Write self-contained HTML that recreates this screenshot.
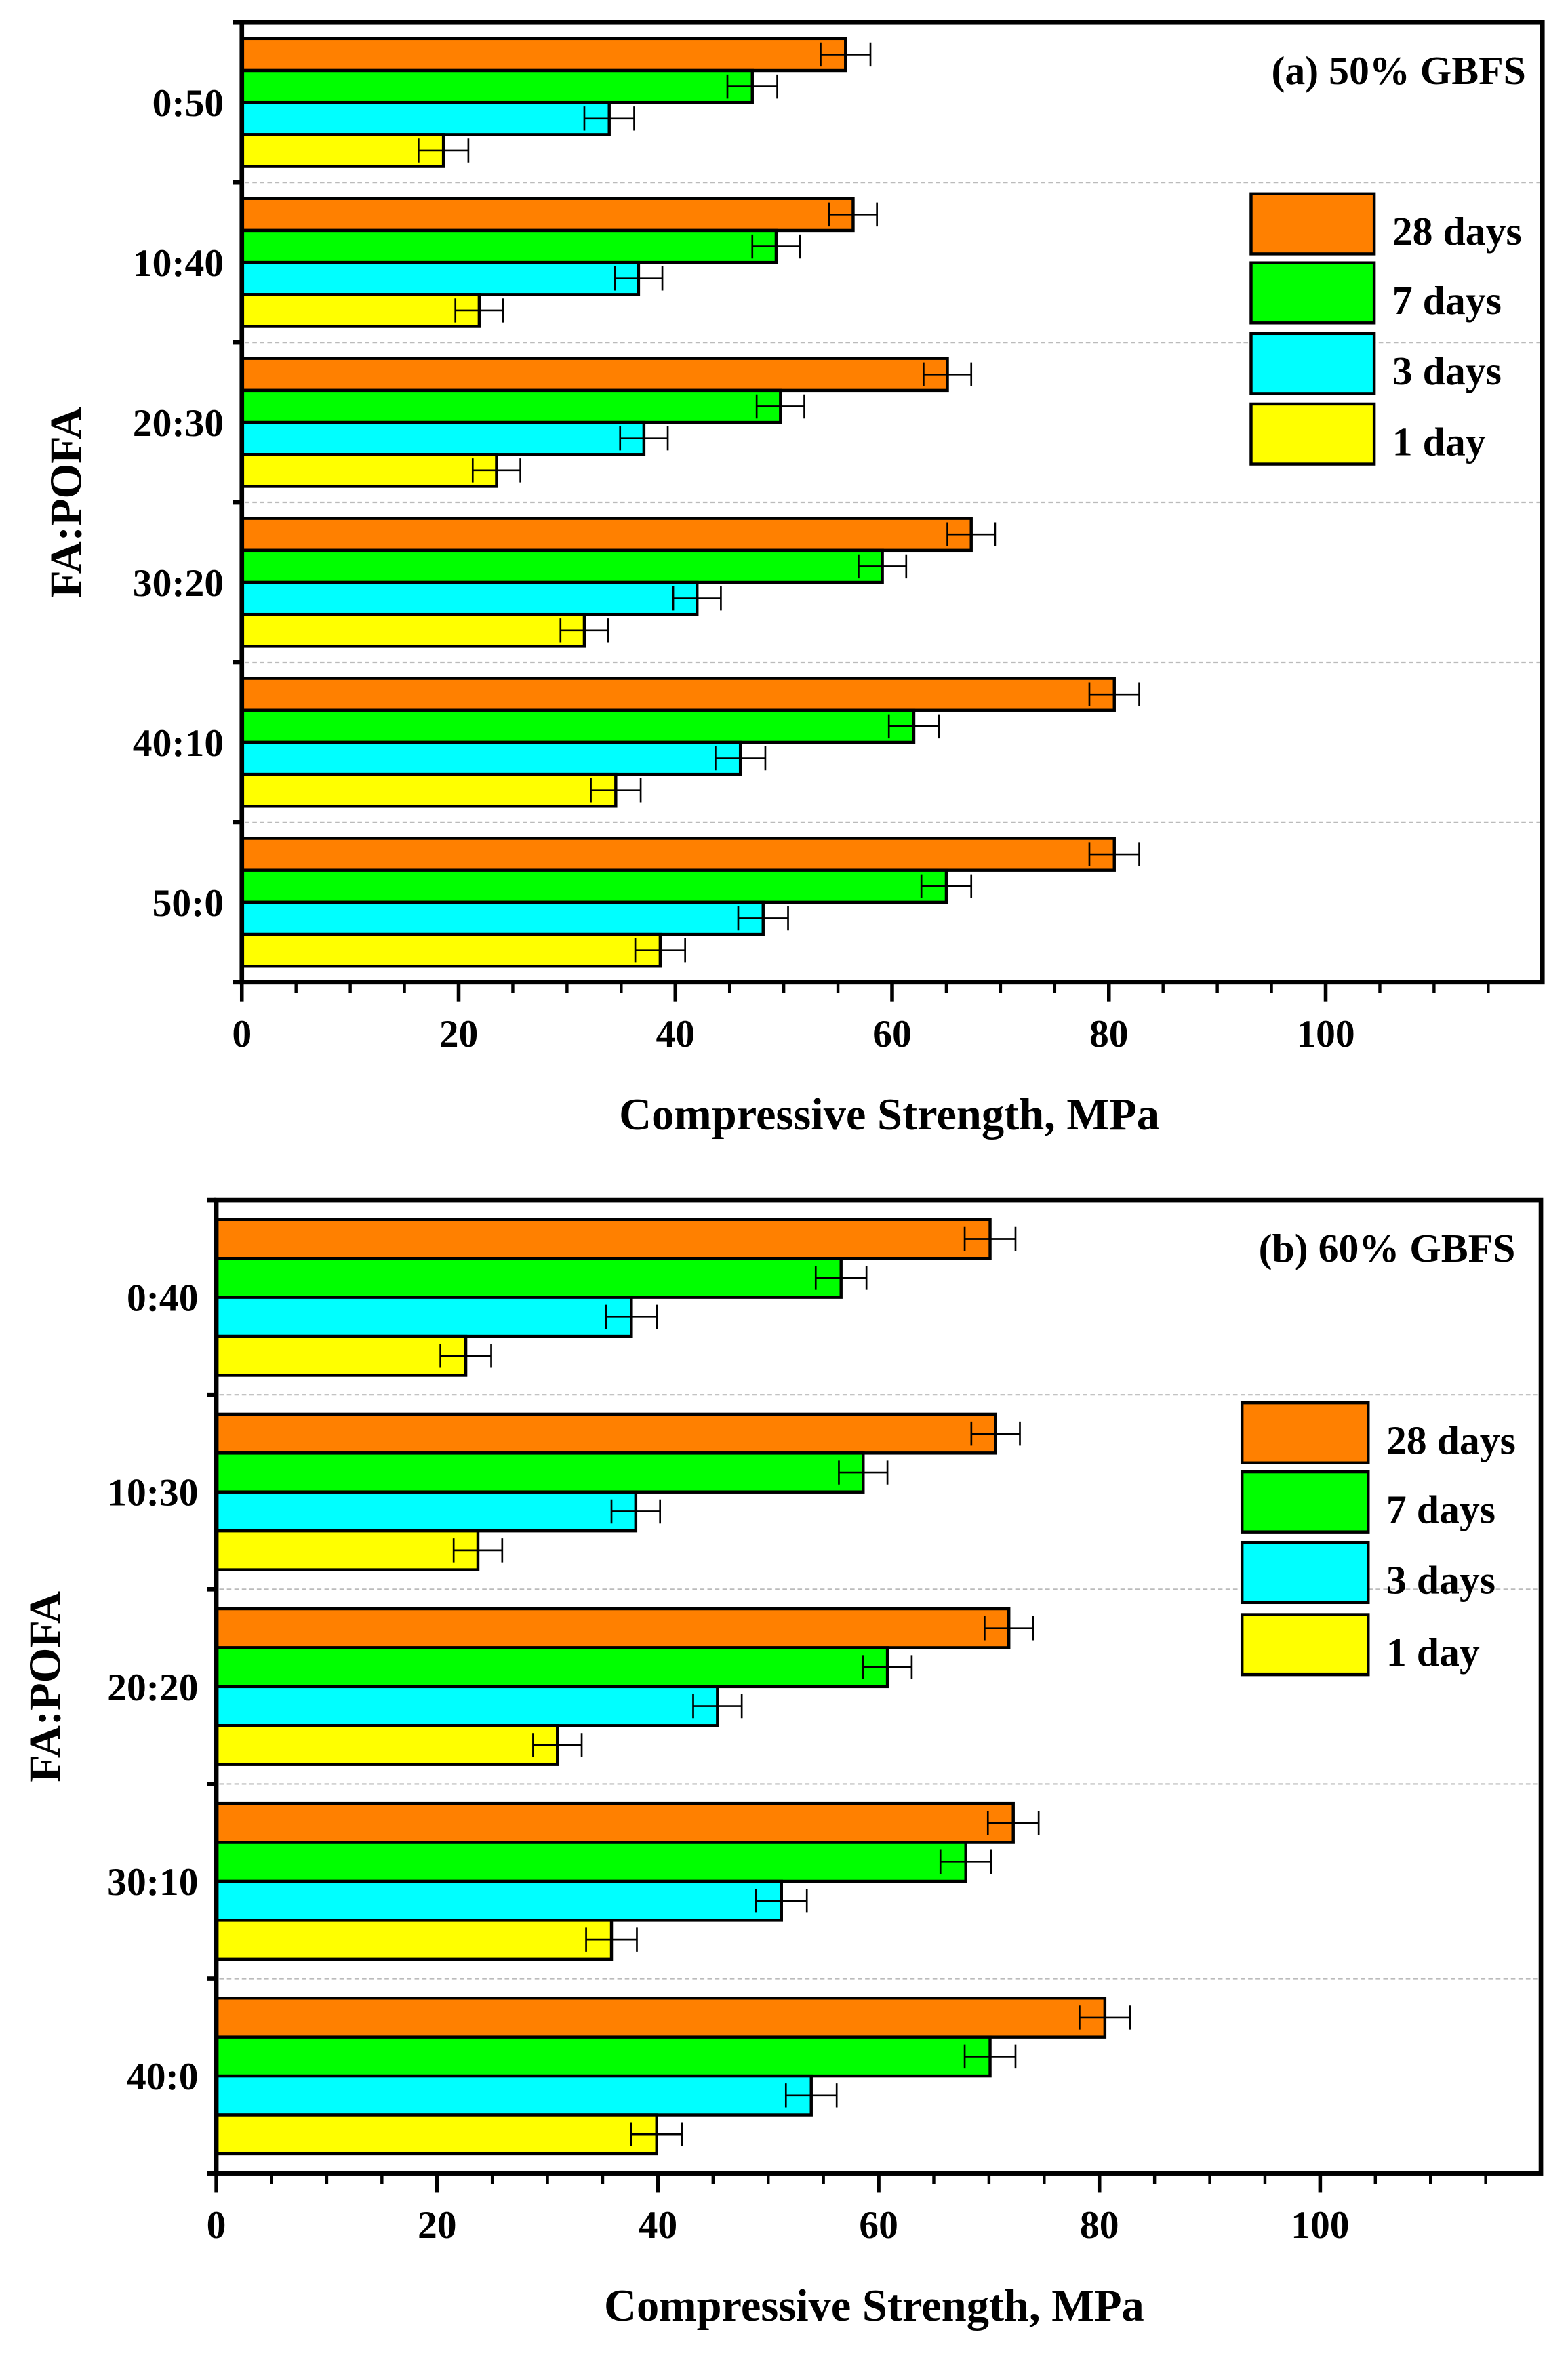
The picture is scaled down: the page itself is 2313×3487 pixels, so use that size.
<!DOCTYPE html>
<html><head><meta charset="utf-8"><style>
html,body{margin:0;padding:0;background:#fff;}
svg{display:block;}
text{font-family:"Liberation Serif",serif;font-weight:bold;fill:#000;}
</style></head><body>
<svg id="fig" width="2313" height="3487" viewBox="0 0 1044 1574" xmlns="http://www.w3.org/2000/svg"></svg>
<script>
const seriesNames = ["28 days","7 days","3 days","1 day"];
const seriesColors = ["#ff8000","#00ff00","#00ffff","#ffff00"];
const catsA = ["0:50","10:40","20:30","30:20","40:10","50:0"];
const a28 = [55.7,56.4,65.1,67.3,80.5,80.5];
const a7 = [47.1,49.3,49.7,59.1,62.0,65.0];
const a3 = [33.9,36.6,37.1,42.0,46.0,48.1];
const a1 = [18.6,21.9,23.5,31.6,34.5,38.6];
const errA = [2.3,2.2,2.2,2.2,2.3,2.3];
const catsB = ["0:40","10:30","20:20","30:10","40:0"];
const b28 = [70.1,70.6,71.8,72.2,80.5];
const b7 = [56.6,58.6,60.8,67.9,70.1];
const b3 = [37.6,38.0,45.4,51.2,53.9];
const b1 = [22.6,23.7,30.9,35.8,39.9];
const errB = [2.3,2.2,2.2,2.3,2.3];
const xTicks = [0,20,40,60,80,100];

const NS="http://www.w3.org/2000/svg";
const svg=document.getElementById('fig');
function mk(tag,attrs,parent){const e=document.createElementNS(NS,tag);for(const k in attrs)e.setAttribute(k,attrs[k]);(parent||svg).appendChild(e);return e;}

function panel(p){
  const g=mk('g',{});
  
  
  const X=v=>p.x0+(v/120)*(p.right-p.x0);
  const n=p.cats.length, band=(p.bottom-p.top)/n, pad=band*0.1, bh=(band-2*pad)/4;
  for(let i=1;i<n;i++){
    const y=p.top+i*band;
    const l=mk('line',{x1:p.x0+2,x2:p.right,y1:y,y2:y,stroke:'#bbb','stroke-width':1,'stroke-dasharray':'3,2'},g);
    
    
  }
  const series=p.series;
  for(let c=0;c<n;c++){
    for(let s=0;s<4;s++){
      const v=series[s][c];
      const y=p.top+c*band+pad+s*bh;
      const r=mk('rect',{x:p.x0,y:y,width:X(v)-p.x0,height:bh,fill:seriesColors[s],stroke:'#000','stroke-width':2},g);
      
      
      const e=p.err[c], ym=y+bh/2;
      const eb=mk('path',{d:`M${X(v-e)},${ym}H${X(v+e)}M${X(v-e)},${ym-8}V${ym+8}M${X(v+e)},${ym-8}V${ym+8}`,stroke:'#000','stroke-width':1.2,fill:'none'},g);
      
      
    }
  }
  const f=mk('rect',{x:p.x0,y:p.top,width:p.right-p.x0,height:p.bottom-p.top,fill:'none',stroke:'#000','stroke-width':3},g);
  
  
  for(let i=0;i<=n;i++){
    const y=p.top+i*band;
    mk('line',{x1:p.x0-6,x2:p.x0,y1:y,y2:y,stroke:'#000','stroke-width':3},g);
  }
  for(let c=0;c<n;c++){
    const t=mk('text',{x:p.x0-12,y:p.top+c*band+band/2+9,'text-anchor':'end','font-size':26},g);
    t.textContent=p.cats[c];
    
    
  }
  for(let v=0;v<=115;v+=5){
    const major=v%20===0;
    mk('line',{x1:X(v),x2:X(v),y1:p.bottom,y2:p.bottom+(major?13:7),stroke:'#000','stroke-width':major?2.5:2},g);
  }
  xTicks.forEach(v=>{
    const t=mk('text',{x:X(v),y:p.bottom+43,'text-anchor':'middle','font-size':26},g);
    t.textContent=v;
    
    
  });
  const xt=mk('text',{x:p.xtX,y:p.bottom+98,'text-anchor':'middle','font-size':30},g);
  xt.textContent='Compressive Strength, MPa';
  
  
  const yt=mk('text',{x:0,y:0,'text-anchor':'middle','font-size':30,transform:`translate(${p.ytX},${(p.top+p.bottom)/2}) rotate(-90)`},g);
  yt.textContent='FA:POFA';
  
  
  const tt=mk('text',{x:p.titleX,y:p.titleY,'text-anchor':'end','font-size':27},g);
  tt.textContent=p.title;
  
  
  p.legY.forEach((ly,s)=>{
    const r=mk('rect',{x:p.legX,y:ly,width:p.legW,height:40,fill:seriesColors[s],stroke:'#000','stroke-width':2},g);
    
    
    const t=mk('text',{x:p.legX+p.legW+12,y:ly+34,'font-size':27},g);
    t.textContent=seriesNames[s];
    
    
  });
}
panel({id:'a',cats:catsA,series:[a28,a7,a3,a1],err:errA,x0:161,right:1027,top:15,bottom:654,
  xtX:592,ytX:54,title:'(a) 50% GBFS',titleX:1016,titleY:56,legX:833,legW:82,legY:[129,175,222,269]});
panel({id:'b',cats:catsB,series:[b28,b7,b3,b1],err:errB,x0:144,right:1026,top:799,bottom:1447,
  xtX:582,ytX:40,title:'(b) 60% GBFS',titleX:1009,titleY:840,legX:827,legW:84,legY:[934,980,1027,1075]});
</script>
</body></html>
